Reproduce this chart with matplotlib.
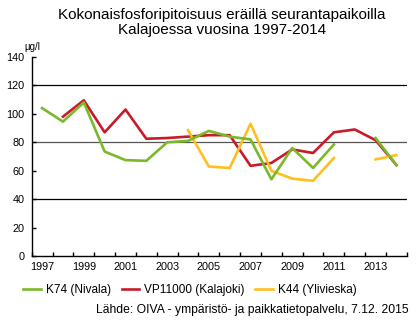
import numpy as np
from matplotlib import pyplot as plt

plt.rcParams['font.family'] = ['Liberation Sans', 'DejaVu Sans']

years = list(range(1997, 2015))
nan = np.nan

# K74 (Nivala)
k74 = [104, 94.5, 108, 73.5, 67.5, 67, 80, 81, 88, 84, 82, 54, 76, 62, 78.5, nan, 83, 64]
# VP11000 (Kalajoki)
vp11000 = [nan, 98, 109.5, 87, 103, 82.5, 83, 84, 85, 85, 63.5, 65.5, 75, 72.5, 87, 89, 81.5, 64]
# K44 (Ylivieska)
k44 = [nan, nan, nan, nan, nan, nan, nan, 88.5, 63, 62, 93, 60, 54.5, 53, 69, nan, 68, 71]

c_green = '#7ab929'
c_red = '#c81a2a'
c_yellow = '#ffbf1f'

fig = plt.figure(figsize=(4.16, 3.22), dpi=100)
ax = fig.add_axes([0.0762, 0.204, 0.9018, 0.6196])

x = np.arange(len(years))
l_red, = ax.plot(x, vp11000, color=c_red, lw=1.9, zorder=3, label='VP11000 (Kalajoki)')
l_yel, = ax.plot(x, k44, color=c_yellow, lw=1.9, zorder=4, label='K44 (Ylivieska)')
l_grn, = ax.plot(x, k74, color=c_green, lw=1.9, zorder=5, label='K74 (Nivala)')

# grid lines
for v, c in [(40, 'black'), (80, '#555555'), (120, 'black')]:
    ax.axhline(v, color=c, lw=0.9, zorder=1)

ax.set_xlim(-0.5, len(years) - 0.5)
ax.set_ylim(0, 140)
ax.set_yticks(range(0, 141, 20))
ax.set_xticks(np.arange(-0.5, len(years), 1.0))
ax.set_xticklabels([])
ax.set_xticks(x[::2], minor=True)
ax.set_xticklabels([str(y) for y in years[::2]], minor=True)
ax.tick_params(axis='x', which='major', direction='in', length=3, width=1)
ax.tick_params(axis='x', which='minor', length=0, pad=4, labelsize=7.8)
ax.tick_params(axis='y', direction='in', length=3, width=1, pad=5, labelsize=7.8)
for s in ['top', 'right']:
    ax.spines[s].set_visible(False)
for s in ['left', 'bottom']:
    ax.spines[s].set_linewidth(1)

fig.text(0.534, 0.975, 'Kokonaisfosforipitoisuus eräillä seurantapaikoilla\nKalajoessa vuosina 1997-2014',
         ha='center', va='top', fontsize=11, linespacing=1.05)
fig.text(0.058, 0.838, 'µg/l', fontsize=7, ha='left', va='bottom')

fig.legend(handles=[l_grn, l_red, l_yel], loc='center left', bbox_to_anchor=(0.045, 0.1),
           ncol=3, frameon=False, fontsize=8.5, handlelength=1.5, handletextpad=0.4,
           columnspacing=0.9, borderaxespad=0)

fig.text(0.983, 0.037, 'Lähde: OIVA - ympäristö- ja paikkatietopalvelu, 7.12. 2015',
         ha='right', va='center', fontsize=8.7)

plt.savefig('out.png', dpi=100)
